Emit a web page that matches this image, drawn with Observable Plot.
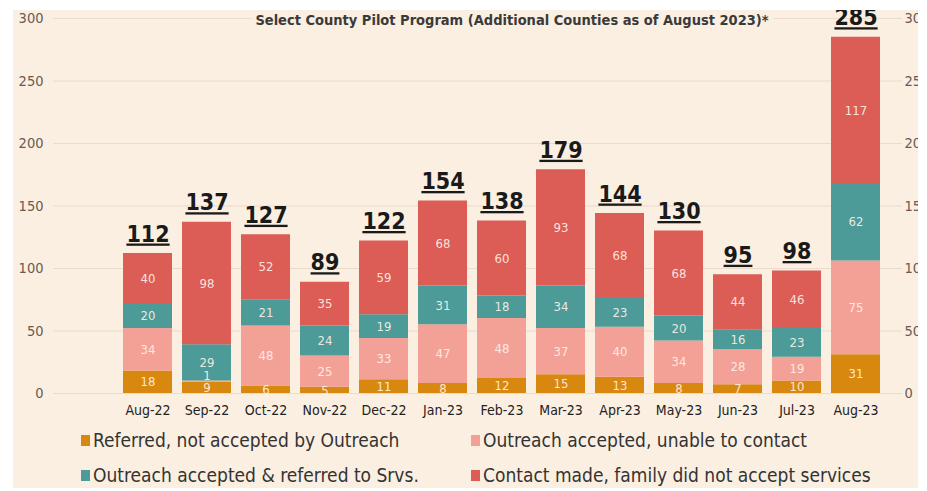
<!DOCTYPE html>
<html><head><meta charset="utf-8">
<script src="https://cdn.jsdelivr.net/npm/d3@7"></script>
<script src="https://cdn.jsdelivr.net/npm/@observablehq/plot@0.6"></script>
<style>
html,body{margin:0;padding:0;background:#fff;}
#wrap{position:absolute;left:13px;top:10px;width:905px;height:478px;background:#fbefe2;overflow:hidden;}
.item{position:absolute;display:flex;align-items:center;white-space:nowrap;font-family:"DejaVu Sans Condensed","DejaVu Sans",sans-serif;font-stretch:condensed;font-size:19px;color:#333;height:22px;}
.sw{width:9px;height:11px;margin-right:3px;}
</style></head>
<body><div id="wrap"><div id="chart"></div></div>
<script>
const months = ["Aug-22","Sep-22","Oct-22","Nov-22","Dec-22","Jan-23","Feb-23","Mar-23","Apr-23","May-23","Jun-23","Jul-23","Aug-23"];
const referredNotAccepted = [18,9,6,5,11,8,12,15,13,8,7,10,31];
const unableToContact = [34,1,48,25,33,47,48,37,40,34,28,19,75];
const referredToSrvs = [20,29,21,24,19,31,18,34,23,20,16,23,62];
const didNotAccept = [40,98,52,35,59,68,60,93,68,68,44,46,117];
const totals = [112,137,127,89,122,154,138,179,144,130,95,98,285];
const seriesNames = ["Referred, not accepted by Outreach","Outreach accepted, unable to contact","Outreach accepted & referred to Srvs.","Contact made, family did not accept services"];
const seriesColors = ["#d9880f","#f3a097","#4c9b98","#dc5d56"];
const yTicks = [0,50,100,150,200,250,300];
const title = "Select County Pilot Program (Additional Counties as of August 2023)*";

const seriesValues = [referredNotAccepted, unableToContact, referredToSrvs, didNotAccept];
const data = [];
seriesNames.forEach((s, si) => months.forEach((m, i) => data.push({month: m, series: s, value: seriesValues[si][i]})));
const totalsData = months.map((m, i) => ({month: m, total: totals[i]}));

const font = "'DejaVu Sans Condensed','DejaVu Sans',sans-serif";
const segText = (keep, dy) => Plot.text(data, Plot.stackY({
  x: "month", y: "value", z: "series", order: seriesNames,
  text: d => keep(d) ? String(d.value) : null, fill: "#fff3ea", fillOpacity: 0.9, fontSize: 13, dy
}));
const chart = Plot.plot({
  width: 905, height: 412,
  marginLeft: 40, marginRight: 16, marginTop: 8, marginBottom: 29,
  style: {background: "transparent", fontFamily: font, overflow: "visible"},
  x: {domain: months, range: [102.3, 874.7], paddingInner: 0.17, paddingOuter: 0.085, label: null},
  y: {domain: [0, 300], label: null},
  color: {domain: seriesNames, range: seriesColors},
  marks: [
    Plot.gridY(yTicks, {stroke: "#e9dccd", strokeOpacity: 1, strokeWidth: 1.2}),
    Plot.axisY(yTicks, {anchor: "left", tickSize: 0, tickPadding: 10, fontSize: 14.5, color: "#6a5a52", label: null}),
    Plot.axisY(yTicks, {anchor: "right", tickSize: 0, tickPadding: 2, fontSize: 14.5, color: "#6a5a52", label: null}),
    Plot.axisX({tickSize: 0, tickPadding: 12, fontSize: 14, color: "#222", label: null}),
    Plot.barY(data, {x: "month", y: "value", fill: "series", order: seriesNames}),
    segText(d => d.value >= 3, 0),
    segText(d => d.value < 3, -6),
    Plot.text(totalsData, {x: "month", y: "total", text: d => String(d.total), dy: -12, lineAnchor: "bottom", fontSize: 23, fontWeight: "bold", fill: "#1a1a1a"}),
    Plot.text([title], {frameAnchor: "top", dx: 34, dy: 2, lineAnchor: "middle", fontSize: 14.5, fontWeight: "bold", fill: "#3a3a3a", stroke: "#fbefe2", strokeWidth: 10})
  ]
});
document.getElementById("chart").appendChild(chart);
d3.select(chart).selectAll('g[font-size="23"] text').style("text-decoration", "underline").style("text-decoration-thickness", "3px");

const wrap = document.getElementById("wrap");
const pos = [[68, 419], [458, 419], [68, 454], [458, 454]];
seriesNames.forEach((name, si) => {
  const it = document.createElement("div");
  it.className = "item";
  it.style.left = pos[si][0] + "px";
  it.style.top = pos[si][1] + "px";
  const sw = document.createElement("span");
  sw.className = "sw";
  sw.style.background = seriesColors[si];
  const tx = document.createElement("span");
  tx.textContent = name;
  it.appendChild(sw); it.appendChild(tx);
  wrap.appendChild(it);
});
</script>
</body></html>
